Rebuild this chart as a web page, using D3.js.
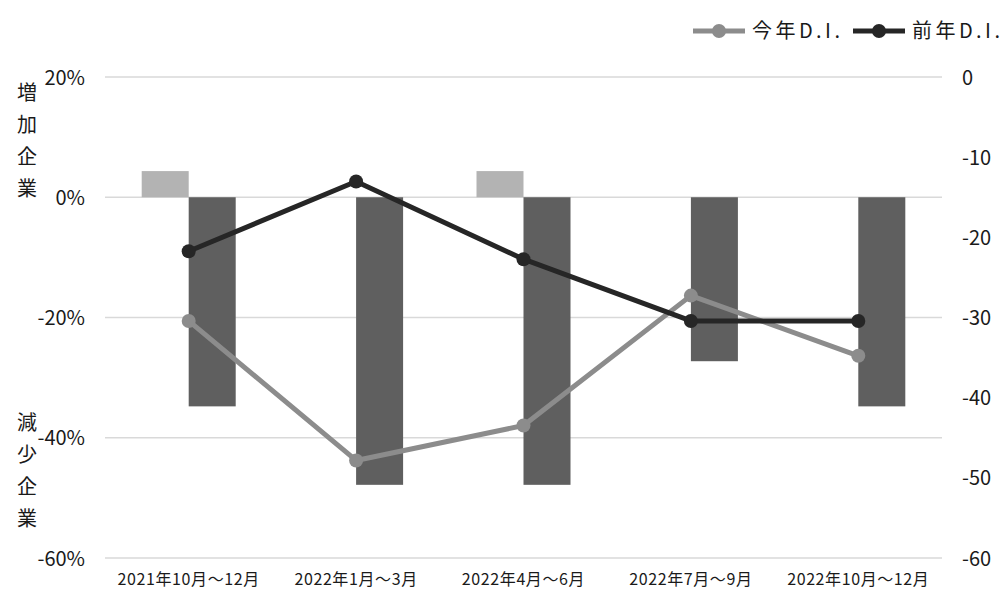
<!DOCTYPE html>
<html><head><meta charset="utf-8">
<script src="https://cdn.jsdelivr.net/npm/d3@7"></script>
<style>
html,body{margin:0;padding:0;background:#fff;}
svg{display:block;}
text{font-family:"Noto Sans CJK JP","Noto Sans",sans-serif;fill:#1a1a1a;}
</style></head>
<body>
<svg id="chart" width="1003" height="591"></svg>
<script>
const categories = ["2021年10月～12月","2022年1月～3月","2022年4月～6月","2022年7月～9月","2022年10月～12月"];
const increasePct = [4.35, 0, 4.35, 0, 0];
const decreasePct = [-34.78, -47.83, -47.83, -27.27, -34.78];
const thisYearDI = [-30.43, -47.83, -43.48, -27.27, -34.78];
const lastYearDI = [-21.74, -13.04, -22.73, -30.43, -30.43];
const leftTicks = [20, 0, -20, -40, -60];
const rightTicks = [0, -10, -20, -30, -40, -50, -60];
const seriesNames = ["今年D.I.", "前年D.I."];

(function(){
const svg = d3.select("#chart");
const pL = 105, pR = 942, pT = 77, pB = 558;

const x = d3.scaleBand().domain(categories).range([pL, pR]).padding(0);
const yL = d3.scaleLinear().domain([-60, 20]).range([pB, pT]);
const yR = d3.scaleLinear().domain([-60, 0]).range([pB, pT]);

// gridlines
svg.append("g").selectAll("line").data(leftTicks).join("line")
  .attr("x1", pL).attr("x2", pR)
  .attr("y1", d => yL(d)).attr("y2", d => yL(d))
  .attr("stroke", "#d9d9d9").attr("stroke-width", 1.5);

// left axis
const axL = svg.append("g").attr("transform", `translate(${pL - 20},0)`)
  .call(d3.axisLeft(yL).tickValues(leftTicks).tickSize(0).tickFormat(d => (d < 0 ? "-" + (-d) : d) + "%"));
axL.select(".domain").remove();
axL.selectAll("text").attr("font-size", 20).attr("fill", "#1a1a1a")
  .style("font-family", '"Noto Sans CJK JP", sans-serif').attr("dy", "0.35em").attr("x", 0);

// right axis
const axR = svg.append("g").attr("transform", `translate(${pR + 20},0)`)
  .call(d3.axisRight(yR).tickValues(rightTicks).tickSize(0).tickFormat(d => d < 0 ? "-" + (-d) : String(d)));
axR.select(".domain").remove();
axR.selectAll("text").attr("font-size", 20).attr("fill", "#1a1a1a")
  .style("font-family", '"Noto Sans CJK JP", sans-serif').attr("dy", "0.35em").attr("x", 0);

// bars
const bw = 47;
const cx = d => x(d) + x.bandwidth() / 2;
svg.append("g").selectAll("rect").data(categories).join("rect")
  .attr("x", d => cx(d) - bw).attr("width", bw)
  .attr("y", (d, i) => yL(increasePct[i])).attr("height", (d, i) => yL(0) - yL(increasePct[i]))
  .attr("fill", "#b3b3b3");
svg.append("g").selectAll("rect").data(categories).join("rect")
  .attr("x", d => cx(d)).attr("width", bw)
  .attr("y", yL(0)).attr("height", (d, i) => yL(decreasePct[i]) - yL(0))
  .attr("fill", "#5f5f5f");

// lines
const lineData = [
  {name: seriesNames[0], vals: thisYearDI, color: "#8c8c8c"},
  {name: seriesNames[1], vals: lastYearDI, color: "#262626"}
];
const lineGen = d3.line().x(d => cx(d.c)).y(d => yR(d.v));
lineData.forEach(s => {
  const pts = categories.map((c, i) => ({c, v: s.vals[i]}));
  svg.append("path").datum(pts).attr("d", lineGen)
    .attr("fill", "none").attr("stroke", s.color).attr("stroke-width", 5).attr("stroke-linejoin", "round");
  svg.append("g").selectAll("circle").data(pts).join("circle")
    .attr("cx", d => cx(d.c)).attr("cy", d => yR(d.v)).attr("r", 7).attr("fill", s.color);
});

// legend
const legX = [693, 853];
lineData.forEach((s, i) => {
  const g = svg.append("g").attr("transform", `translate(${legX[i]},31)`);
  g.append("line").attr("x1", 0).attr("x2", 52).attr("stroke", s.color).attr("stroke-width", 5);
  g.append("circle").attr("cx", 26).attr("r", 7).attr("fill", s.color);
  g.append("text").attr("x", 59).attr("dy", "0.35em").attr("font-size", 20)
    .attr("textLength", 88).attr("lengthAdjust", "spacing").text(s.name);
});

// category labels
svg.append("g").selectAll("text").data(categories).join("text")
  .attr("x", d => cx(d)).attr("y", 579).attr("dy", "0.35em")
  .attr("text-anchor", "middle").attr("font-size", 16)
  .style("letter-spacing", "0.6px").text(d => d);

// vertical y titles
const t1 = Array.from("増加企業"), t2 = Array.from("減少企業");
svg.append("g").selectAll("text").data(t1).join("text")
  .attr("x", 27).attr("y", (d, i) => 93 + i * 32).attr("dy", "0.35em")
  .attr("text-anchor", "middle").attr("font-size", 20).text(d => d);
svg.append("g").selectAll("text").data(t2).join("text")
  .attr("x", 27).attr("y", (d, i) => 423 + i * 32).attr("dy", "0.35em")
  .attr("text-anchor", "middle").attr("font-size", 20).text(d => d);
})();
</script>
</body></html>
